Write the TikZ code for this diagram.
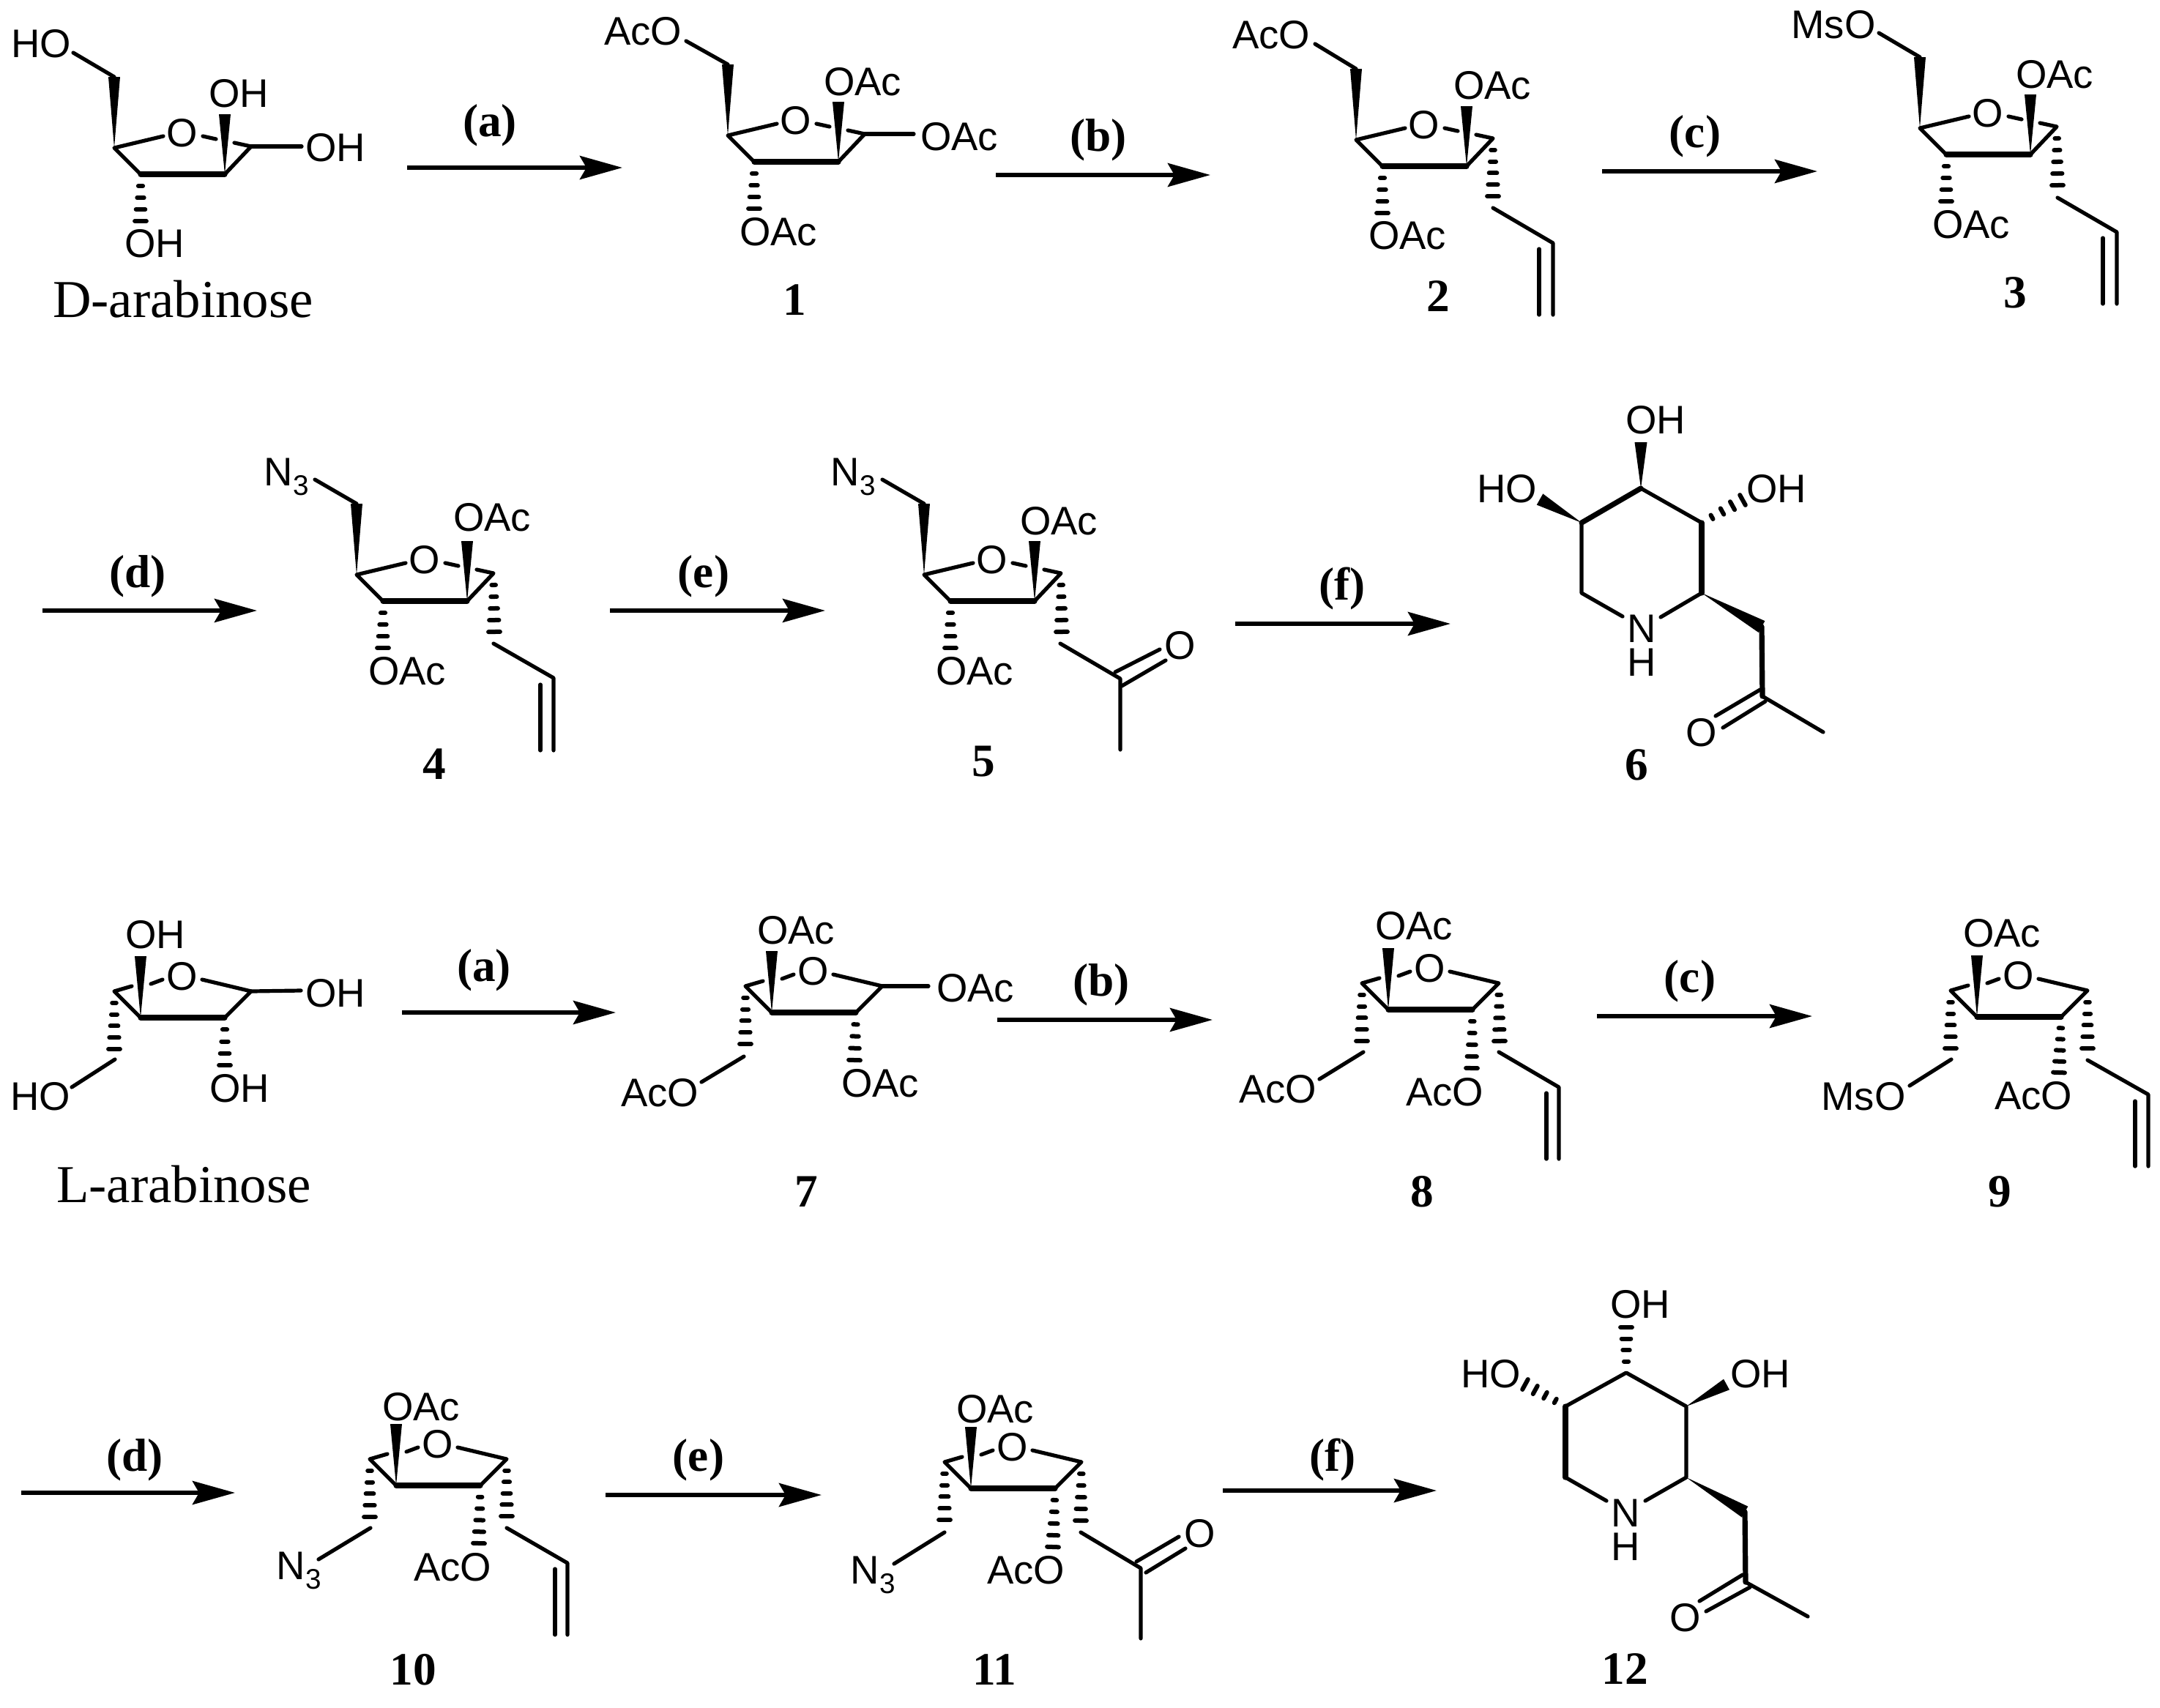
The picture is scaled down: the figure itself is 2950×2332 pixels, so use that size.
\documentclass[tikz,border=0pt]{standalone}
\usepackage{fontspec}
\setmainfont{Liberation Serif}
\newfontfamily\atomFont{Liberation Sans}
\usetikzlibrary{calc,arrows.meta}
\newcommand{\azideText}{N\raisebox{-3.7pt}{\fontsize{11}{11}\selectfont 3}}
\newcommand{\wedgeBond}[3]{%
  \pgfmathsetmacro\wedgeW{#3*0.2845}%
  \fill ($(#2)!\wedgeW pt!90:(#1)$) -- ($(#2)!\wedgeW pt!-90:(#1)$) -- (#1) -- cycle;%
}
\newcommand{\hashBond}[3]{%
  \foreach \hashI in {1,...,#3} {%
    \pgfmathsetmacro\hashT{\hashI/#3}%
    \pgfmathsetmacro\hashW{(1.5+6.4*\hashT)*0.2845}%
    \draw[hashDash] ($(#1)!\hashT!(#2)!\hashW pt!90:(#1)$) -- ($(#1)!\hashT!(#2)!\hashW pt!-90:(#1)$);%
  }%
}
\tikzset{%
  atomLabel/.style={%
    inner sep=0pt,
    font={\atomFont\fontsize{15.5}{15.5}\selectfont}
  },
  amineLabel/.style={%
    inner sep=0pt,
    align=center,
    font={\atomFont\fontsize{15.5}{13}\selectfont}
  },
  compoundLabel/.style={%
    inner sep=0pt,
    font={\bfseries\fontsize{18}{18}\selectfont}
  },
  stepLabel/.style={%
    inner sep=0pt,
    yshift=-0.4mm,
    font={\bfseries\fontsize{18}{18}\selectfont}
  },
  sugarName/.style={%
    inner sep=0pt,
    anchor=base,
    font={\fontsize{20.7}{20.7}\selectfont}
  },
  bondLine/.style={%
    line width=0.52mm,
    line cap=round,
    line join=round
  },
  boldBond/.style={%
    line width=0.72mm,
    line cap=round,
    line join=round
  },
  hashDash/.style={%
    line width=0.6mm,
    line cap=round
  },
  arrowLine/.style={%
    -{Stealth[length=5.8mm,width=3.2mm,inset=0.9mm]},
    line width=0.6mm
  },
  furanoD/.pic={%
    \coordinate (-c4) at (0,0);
    \coordinate (-c3) at (36,36);
    \coordinate (-c2) at (151,36);
    \coordinate (-c1) at (187,-2);
    \coordinate (-ch) at (0,-97);
    \coordinate (-top) at (151,-46);
    \coordinate (-hs) at (36,100);
    \coordinate (-oa) at (67,-16);
    \coordinate (-ob) at (121,-16);
    \coordinate (-oc) at (139,-12);
    \coordinate (-od) at (164,-7);
    \node[atomLabel] (-o) at (93,-20) {O};
    \draw[bondLine] (-oa) -- (-c4) -- (-c3);
    \draw[boldBond] (-c3) -- (-c2);
    \draw[bondLine] (-c2) -- (-c1) -- (-od);
    \draw[bondLine] (-ob) -- (-oc);
    \wedgeBond{-c4}{-ch}{8}
    \wedgeBond{-c2}{-top}{8}
    \hashBond{-c3}{-hs}{4}
  },
  furanoL/.pic={%
    \coordinate (-lf) at (0,0);
    \coordinate (-bl) at (36,36);
    \coordinate (-br) at (151,36);
    \coordinate (-rt) at (187,0);
    \coordinate (-top) at (36,-48);
    \coordinate (-hs) at (0,79);
    \coordinate (-oa) at (120,-16);
    \coordinate (-ob) at (66,-16);
    \coordinate (-oc) at (50,-10);
    \coordinate (-od) at (24,-7);
    \node[atomLabel] (-o) at (93,-20) {O};
    \draw[bondLine] (-oa) -- (-rt) -- (-br);
    \draw[boldBond] (-br) -- (-bl);
    \draw[bondLine] (-bl) -- (-lf) -- (-od);
    \draw[bondLine] (-ob) -- (-oc);
    \wedgeBond{-bl}{-top}{8}
    \hashBond{-lf}{-hs}{5}
  }
}
\begin{document}
\begin{tikzpicture}[x=0.01cm,y=-0.01cm]
  \useasboundingbox (0,0) rectangle (2950,2332);

  \pic (ma) at (156,202) {furanoD};
  \node[atomLabel] (maho) at (56,60) {HO};
  \coordinate (mae) at (100,72);
  \draw[bondLine] (ma-ch) -- (mae);
  \node[atomLabel] (maoha) at (326,128) {OH};
  \node[atomLabel] (maohb) at (458,202) {OH};
  \coordinate (maf) at (412,200);
  \draw[bondLine] (ma-c1) -- (maf);
  \node[atomLabel] (maohc) at (211,333) {OH};
  \node[sugarName] (maname) at (250,433) {D-arabinose};

  \coordinate (sa) at (556,229);
  \coordinate (ta) at (850,229);
  \draw[arrowLine] (sa) -- (ta);
  \node[stepLabel] (la) at (669,167) {(a)};

  \pic (m1) at (994,185) {furanoD};
  \node[atomLabel] (m1aco) at (878,43) {AcO};
  \coordinate (m1e) at (937,56);
  \draw[bondLine] (m1-ch) -- (m1e);
  \node[atomLabel] (m1oaca) at (1178,112) {OAc};
  \node[atomLabel] (m1oacb) at (1310,187) {OAc};
  \coordinate (m1f) at (1248,183);
  \draw[bondLine] (m1-c1) -- (m1f);
  \node[atomLabel] (m1oacc) at (1063,317) {OAc};
  \node[compoundLabel] (m1num) at (1085,410) {1};

  \coordinate (sb) at (1360,239);
  \coordinate (tb) at (1653,239);
  \draw[arrowLine] (sb) -- (tb);
  \node[stepLabel] (lb) at (1500,187) {(b)};

  \pic (m2) at (1852,191) {furanoD};
  \node[atomLabel] (m2aco) at (1736,48) {AcO};
  \coordinate (m2e) at (1796,60);
  \draw[bondLine] (m2-ch) -- (m2e);
  \node[atomLabel] (m2oaca) at (2038,117) {OAc};
  \node[atomLabel] (m2oacb) at (1922,322) {OAc};
  \coordinate (m2h) at (2039,268);
  \hashBond{m2-c1}{m2h}{5}
  \coordinate (m2a) at (2039,284);
  \coordinate (m2b) at (2121,332);
  \coordinate (m2c) at (2121,430);
  \coordinate (m2d) at (2102,340);
  \coordinate (m2f) at (2102,430);
  \draw[bondLine] (m2a) -- (m2b) -- (m2c);
  \draw[bondLine] (m2d) -- (m2f);
  \node[compoundLabel] (m2num) at (1964,405) {2};

  \coordinate (sc) at (2188,234);
  \coordinate (tc) at (2482,234);
  \draw[arrowLine] (sc) -- (tc);
  \node[stepLabel] (lc) at (2315,182) {(c)};

  \pic (m3) at (2622,175) {furanoD};
  \node[atomLabel] (m3mso) at (2504,34) {MsO};
  \coordinate (m3e) at (2566,45);
  \draw[bondLine] (m3-ch) -- (m3e);
  \node[atomLabel] (m3oaca) at (2806,102) {OAc};
  \node[atomLabel] (m3oacb) at (2692,307) {OAc};
  \coordinate (m3h) at (2810,253);
  \hashBond{m3-c1}{m3h}{5}
  \coordinate (m3a) at (2810,270);
  \coordinate (m3b) at (2891,317);
  \coordinate (m3c) at (2891,415);
  \coordinate (m3d) at (2872,325);
  \coordinate (m3f) at (2872,415);
  \draw[bondLine] (m3a) -- (m3b) -- (m3c);
  \draw[bondLine] (m3d) -- (m3f);
  \node[compoundLabel] (m3num) at (2752,400) {3};

  \coordinate (sd) at (58,834);
  \coordinate (td) at (351,834);
  \draw[arrowLine] (sd) -- (td);
  \node[stepLabel] (ld) at (188,783) {(d)};

  \pic (m4) at (487,785) {furanoD};
  \node[atomLabel,anchor=base west] (m4azide) at (360,663) {\azideText};
  \coordinate (m4e) at (430,655);
  \draw[bondLine] (m4-ch) -- (m4e);
  \node[atomLabel] (m4oaca) at (672,707) {OAc};
  \node[atomLabel] (m4oacb) at (556,917) {OAc};
  \coordinate (m4h) at (675,863);
  \hashBond{m4-c1}{m4h}{5}
  \coordinate (m4a) at (674,879);
  \coordinate (m4b) at (756,926);
  \coordinate (m4c) at (756,1025);
  \coordinate (m4d) at (738,935);
  \coordinate (m4f) at (738,1025);
  \draw[bondLine] (m4a) -- (m4b) -- (m4c);
  \draw[bondLine] (m4d) -- (m4f);
  \node[compoundLabel] (m4num) at (593,1044) {4};

  \coordinate (se) at (833,834);
  \coordinate (te) at (1127,834);
  \draw[arrowLine] (se) -- (te);
  \node[stepLabel] (le) at (961,783) {(e)};

  \pic (m5) at (1262,785) {furanoD};
  \node[atomLabel,anchor=base west] (m5azide) at (1134,663) {\azideText};
  \coordinate (m5e) at (1205,655);
  \draw[bondLine] (m5-ch) -- (m5e);
  \node[atomLabel] (m5oaca) at (1446,712) {OAc};
  \node[atomLabel] (m5oacb) at (1331,917) {OAc};
  \coordinate (m5h) at (1450,863);
  \hashBond{m5-c1}{m5h}{5}
  \coordinate (m5a) at (1448,879);
  \coordinate (m5b) at (1530,927);
  \coordinate (m5c) at (1530,1024);
  \draw[bondLine] (m5a) -- (m5b) -- (m5c);
  \node[atomLabel] (m5o) at (1612,882) {O};
  \coordinate (m5p) at (1523,918);
  \coordinate (m5q) at (1584,887);
  \coordinate (m5r) at (1532,937);
  \coordinate (m5s) at (1592,902);
  \draw[bondLine] (m5p) -- (m5q);
  \draw[bondLine] (m5r) -- (m5s);
  \node[compoundLabel] (m5num) at (1343,1040) {5};

  \coordinate (sf) at (1687,852);
  \coordinate (tf) at (1981,852);
  \draw[arrowLine] (sf) -- (tf);
  \node[stepLabel] (lf) at (1833,800) {(f)};

  \coordinate (m6t) at (2241,667);
  \coordinate (m6l) at (2160,714);
  \coordinate (m6r) at (2324,714);
  \coordinate (m6ll) at (2160,810);
  \coordinate (m6lr) at (2324,810);
  \node[amineLabel] (m6n) at (2242,882) {N\\H};
  \coordinate (m6na) at (2216,842);
  \coordinate (m6nb) at (2268,843);
  \draw[bondLine] (m6na) -- (m6ll) -- (m6l);
  \draw[boldBond] (m6l) -- (m6t);
  \draw[bondLine] (m6t) -- (m6r);
  \draw[boldBond] (m6r) -- (m6lr);
  \draw[bondLine] (m6lr) -- (m6nb);
  \coordinate (m6ch) at (2406,856);
  \coordinate (m6co) at (2407,951);
  \coordinate (m6me) at (2490,1000);
  \wedgeBond{m6lr}{m6ch}{9}
  \draw[boldBond] (m6ch) -- (m6co);
  \draw[bondLine] (m6co) -- (m6me);
  \node[atomLabel] (m6o) at (2324,1001) {O};
  \coordinate (m6p) at (2404,942);
  \coordinate (m6q) at (2343,978);
  \coordinate (m6u) at (2411,958);
  \coordinate (m6v) at (2353,994);
  \draw[bondLine] (m6p) -- (m6q);
  \draw[bondLine] (m6u) -- (m6v);
  \node[atomLabel] (m6oha) at (2261,574) {OH};
  \coordinate (m6wa) at (2241,604);
  \wedgeBond{m6t}{m6wa}{8.5}
  \node[atomLabel] (m6hob) at (2058,668) {HO};
  \coordinate (m6wb) at (2103,682);
  \wedgeBond{m6l}{m6wb}{8.7}
  \node[atomLabel] (m6ohc) at (2426,668) {OH};
  \coordinate (m6hc) at (2380,683);
  \hashBond{m6r}{m6hc}{4}
  \node[compoundLabel] (m6num) at (2235,1045) {6};

  \pic (mb) at (156,1354) {furanoL};
  \node[atomLabel] (mboha) at (212,1277) {OH};
  \node[atomLabel] (mbohb) at (458,1357) {OH};
  \coordinate (mbf) at (411,1353);
  \draw[bondLine] (mb-rt) -- (mbf);
  \coordinate (mbh) at (307,1455);
  \hashBond{mb-br}{mbh}{4}
  \node[atomLabel] (mbohc) at (327,1487) {OH};
  \coordinate (mba) at (157,1447);
  \coordinate (mbb) at (98,1485);
  \draw[bondLine] (mba) -- (mbb);
  \node[atomLabel] (mbho) at (55,1498) {HO};
  \node[sugarName] (mbname) at (251,1642) {L-arabinose};

  \coordinate (sg) at (549,1383);
  \coordinate (tg) at (841,1383);
  \draw[arrowLine] (sg) -- (tg);
  \node[stepLabel] (lg) at (661,1321) {(a)};

  \pic (m7) at (1018,1347) {furanoL};
  \node[atomLabel] (m7oaca) at (1087,1271) {OAc};
  \node[atomLabel] (m7oacb) at (1332,1350) {OAc};
  \coordinate (m7f) at (1268,1347);
  \draw[bondLine] (m7-rt) -- (m7f);
  \coordinate (m7h) at (1167,1448);
  \hashBond{m7-br}{m7h}{4}
  \node[atomLabel] (m7oacc) at (1202,1480) {OAc};
  \coordinate (m7a) at (1016,1443);
  \coordinate (m7b) at (958,1478);
  \draw[bondLine] (m7a) -- (m7b);
  \node[atomLabel] (m7aco) at (901,1493) {AcO};
  \node[compoundLabel] (m7num) at (1101,1628) {7};

  \coordinate (sh) at (1362,1393);
  \coordinate (th) at (1656,1393);
  \draw[arrowLine] (sh) -- (th);
  \node[stepLabel] (lh) at (1504,1341) {(b)};

  \pic (m8) at (1860,1343) {furanoL};
  \node[atomLabel] (m8oac) at (1931,1265) {OAc};
  \coordinate (m8h) at (2010,1459);
  \hashBond{m8-br}{m8h}{5}
  \node[atomLabel] (m8acoa) at (1973,1492) {AcO};
  \coordinate (m8a) at (1862,1437);
  \coordinate (m8b) at (1802,1474);
  \draw[bondLine] (m8a) -- (m8b);
  \node[atomLabel] (m8acob) at (1745,1488) {AcO};
  \coordinate (m8i) at (2048,1422);
  \hashBond{m8-rt}{m8i}{5}
  \coordinate (m8p) at (2047,1437);
  \coordinate (m8q) at (2129,1485);
  \coordinate (m8r) at (2129,1583);
  \coordinate (m8s) at (2112,1493);
  \coordinate (m8u) at (2112,1583);
  \draw[bondLine] (m8p) -- (m8q) -- (m8r);
  \draw[bondLine] (m8s) -- (m8u);
  \node[compoundLabel] (m8num) at (1942,1628) {8};

  \coordinate (si) at (2181,1388);
  \coordinate (ti) at (2475,1388);
  \draw[arrowLine] (si) -- (ti);
  \node[stepLabel] (li) at (2308,1336) {(c)};

  \pic (m9) at (2664,1353) {furanoL};
  \node[atomLabel] (m9oac) at (2734,1275) {OAc};
  \coordinate (m9h) at (2812,1465);
  \hashBond{m9-br}{m9h}{5}
  \node[atomLabel] (m9aco) at (2777,1497) {AcO};
  \coordinate (m9a) at (2665,1447);
  \coordinate (m9b) at (2608,1483);
  \draw[bondLine] (m9a) -- (m9b);
  \node[atomLabel] (m9mso) at (2545,1498) {MsO};
  \coordinate (m9i) at (2851,1432);
  \hashBond{m9-rt}{m9i}{5}
  \coordinate (m9p) at (2851,1448);
  \coordinate (m9q) at (2934,1495);
  \coordinate (m9r) at (2934,1593);
  \coordinate (m9s) at (2916,1504);
  \coordinate (m9u) at (2916,1593);
  \draw[bondLine] (m9p) -- (m9q) -- (m9r);
  \draw[bondLine] (m9s) -- (m9u);
  \node[compoundLabel] (m9num) at (2731,1628) {9};

  \coordinate (sj) at (29,2039);
  \coordinate (tj) at (321,2039);
  \draw[arrowLine] (sj) -- (tj);
  \node[stepLabel] (lj) at (184,1990) {(d)};

  \pic (mj) at (505,1993) {furanoL};
  \node[atomLabel] (mjoac) at (575,1922) {OAc};
  \coordinate (mjh) at (654,2108);
  \hashBond{mj-br}{mjh}{5}
  \node[atomLabel] (mjaco) at (618,2141) {AcO};
  \coordinate (mja) at (506,2087);
  \coordinate (mjb) at (435,2130);
  \draw[bondLine] (mja) -- (mjb);
  \node[atomLabel,anchor=base west] (mjazide) at (377,2157) {\azideText};
  \coordinate (mji) at (692,2071);
  \hashBond{mj-rt}{mji}{5}
  \coordinate (mjp) at (692,2087);
  \coordinate (mjq) at (775,2135);
  \coordinate (mjr) at (775,2233);
  \coordinate (mjs) at (758,2143);
  \coordinate (mju) at (758,2233);
  \draw[bondLine] (mjp) -- (mjq) -- (mjr);
  \draw[bondLine] (mjs) -- (mju);
  \node[compoundLabel] (mjnum) at (564,2281) {10};

  \coordinate (sk) at (827,2042);
  \coordinate (tk) at (1122,2042);
  \draw[arrowLine] (sk) -- (tk);
  \node[stepLabel] (lk) at (954,1990) {(e)};

  \pic (mk) at (1290,1997) {furanoL};
  \node[atomLabel] (mkoac) at (1359,1925) {OAc};
  \coordinate (mkh) at (1438,2113);
  \hashBond{mk-br}{mkh}{5}
  \node[atomLabel] (mkaco) at (1401,2145) {AcO};
  \coordinate (mka) at (1290,2093);
  \coordinate (mkb) at (1221,2136);
  \draw[bondLine] (mka) -- (mkb);
  \node[atomLabel,anchor=base west] (mkazide) at (1161,2163) {\azideText};
  \coordinate (mki) at (1476,2077);
  \hashBond{mk-rt}{mki}{5}
  \coordinate (mkp) at (1476,2093);
  \coordinate (mkq) at (1558,2142);
  \coordinate (mkr) at (1558,2238);
  \draw[bondLine] (mkp) -- (mkq) -- (mkr);
  \node[atomLabel] (mko) at (1639,2095) {O};
  \coordinate (mks) at (1552,2133);
  \coordinate (mku) at (1610,2099);
  \coordinate (mkv) at (1565,2148);
  \coordinate (mkw) at (1619,2115);
  \draw[bondLine] (mks) -- (mku);
  \draw[bondLine] (mkv) -- (mkw);
  \node[compoundLabel] (mknum) at (1358,2281) {11};

  \coordinate (sl) at (1670,2036);
  \coordinate (tl) at (1962,2036);
  \draw[arrowLine] (sl) -- (tl);
  \node[stepLabel] (ll) at (1820,1990) {(f)};

  \coordinate (mlt) at (2221,1875);
  \coordinate (mll) at (2138,1921);
  \coordinate (mlr) at (2303,1921);
  \coordinate (mlbl) at (2138,2018);
  \coordinate (mlbr) at (2303,2018);
  \node[amineLabel] (mln) at (2220,2090) {N\\H};
  \coordinate (mlna) at (2194,2050);
  \coordinate (mlnb) at (2247,2050);
  \draw[bondLine] (mlna) -- (mlbl);
  \draw[boldBond] (mlbl) -- (mll);
  \draw[bondLine] (mll) -- (mlt) -- (mlr) -- (mlbr) -- (mlnb);
  \coordinate (mlch) at (2383,2065);
  \coordinate (mlco) at (2384,2161);
  \coordinate (mlme) at (2469,2208);
  \wedgeBond{mlbr}{mlch}{8.5}
  \draw[boldBond] (mlch) -- (mlco);
  \draw[bondLine] (mlco) -- (mlme);
  \node[atomLabel] (mlo) at (2302,2210) {O};
  \coordinate (mlp) at (2380,2151);
  \coordinate (mlq) at (2321,2187);
  \coordinate (mlu) at (2390,2168);
  \coordinate (mlv) at (2330,2201);
  \draw[bondLine] (mlp) -- (mlq);
  \draw[bondLine] (mlu) -- (mlv);
  \node[atomLabel] (mloha) at (2240,1782) {OH};
  \coordinate (mlha) at (2221,1813);
  \hashBond{mlt}{mlha}{4}
  \node[atomLabel] (mlhob) at (2036,1877) {HO};
  \coordinate (mlhb) at (2083,1891);
  \hashBond{mll}{mlhb}{4}
  \node[atomLabel] (mlohc) at (2404,1877) {OH};
  \coordinate (mlwc) at (2358,1891);
  \wedgeBond{mlr}{mlwc}{8.3}
  \node[compoundLabel] (mlnum) at (2219,2280) {12};
\end{tikzpicture}
\end{document}
